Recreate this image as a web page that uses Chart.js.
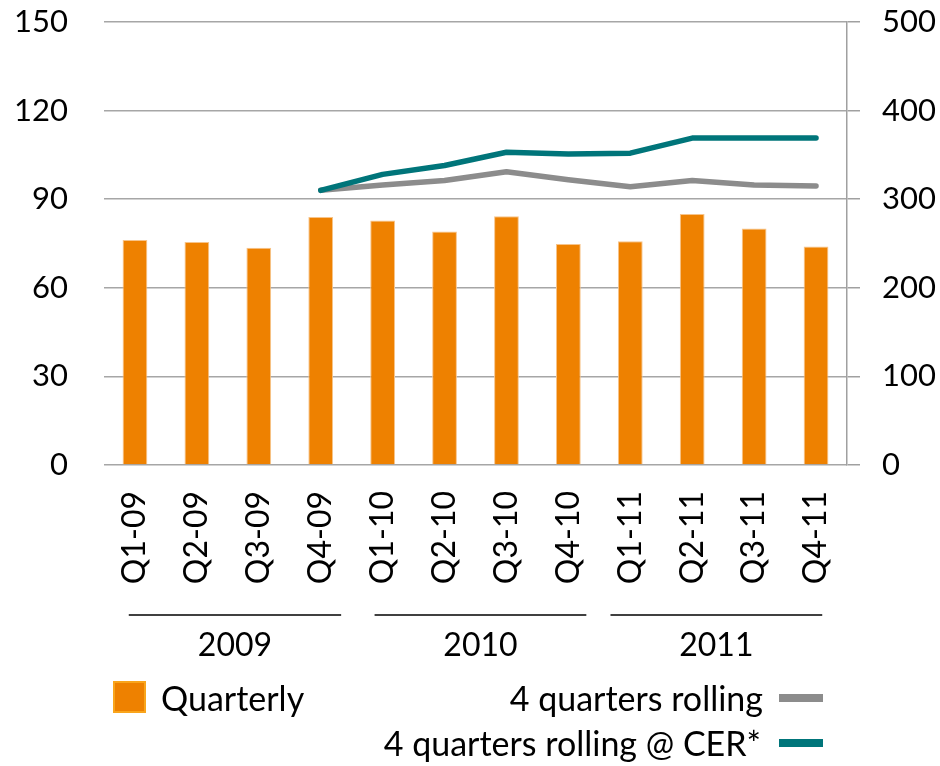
<!DOCTYPE html>
<html lang="en">
<head>
<meta charset="UTF-8">
<title>Quarterly sales</title>
<script src="https://cdn.jsdelivr.net/npm/chart.js"></script>
<style>
  body { margin: 0; background: #fff; }
  canvas { display: block; }
</style>
</head>
<body>
<canvas id="salesChart" width="940" height="766"></canvas>
<script>
// quarters and values
const quarters = ["Q1-09", "Q2-09", "Q3-09", "Q4-09", "Q1-10", "Q2-10", "Q3-10", "Q4-10", "Q1-11", "Q2-11", "Q3-11", "Q4-11"];
const quarterly = [76.2, 75.5, 73.6, 84.0, 82.8, 79.1, 84.2, 74.8, 75.8, 85.0, 80.1, 74.0];
const rolling = [null, null, null, 310, 316, 321, 331, 322, 314, 321, 316, 315];
const rollingCER = [null, null, null, 310, 328, 338, 353, 351, 352, 369, 369, 369];
const years = ["2009", "2010", "2011"];
const leftTicks = [0, 30, 60, 90, 120, 150];
const rightTicks = [0, 100, 200, 300, 400, 500];

const ORANGE = "#ee8100";
const GREY = "#8c8c8c";
const TEAL = "#00757a";
const FONT = "Lato, 'Open Sans', sans-serif";

// year brackets under the quarter labels + the legend
const extras = {
  id: "extras",
  afterDraw(chart) {
    const ctx = chart.ctx;
    const x = chart.scales.x;
    const step = x.getPixelForValue(1) - x.getPixelForValue(0);
    // bracket ends, in fractions of a category step
    const ends = [[-0.1, 0.33], [-0.13, 0.29], [-0.32, 0.1]];
    ctx.save();
    ctx.fillStyle = "#000";
    ctx.strokeStyle = "#000";
    ctx.lineWidth = 1.3;
    ctx.font = "32px " + FONT;
    ctx.textAlign = "center";
    ctx.textBaseline = "middle";
    years.forEach((yr, i) => {
      const a = x.getPixelForValue(i * 4) + ends[i][0] * step;
      const b = x.getPixelForValue(i * 4 + 3) + ends[i][1] * step;
      ctx.beginPath();
      ctx.moveTo(a, 615);
      ctx.lineTo(b, 615);
      ctx.stroke();
      ctx.fillText(yr, (a + b) / 2, 646);
    });

    // legend
    ctx.font = "34px " + FONT;
    ctx.fillStyle = ORANGE;
    ctx.fillRect(113, 681, 33, 32);
    ctx.strokeStyle = "#f9a51c";
    ctx.lineWidth = 2;
    ctx.strokeRect(114, 682, 31, 30);

    ctx.fillStyle = "#000";
    ctx.textAlign = "left";
    ctx.fillText("Quarterly", 161, 700);
    ctx.textAlign = "right";
    ctx.fillText("4 quarters rolling", 763, 700);
    ctx.fillText("4 quarters rolling @ CER*", 761, 745);

    ctx.fillStyle = GREY;
    ctx.fillRect(779, 694, 44, 8);
    ctx.fillStyle = TEAL;
    ctx.fillRect(779, 739, 44, 8);
    ctx.restore();
  }
};

// keep the plot box fixed: tick padding would otherwise push the top down
function fixVertical(width) {
  return function (scale) {
    scale.width = width;
    scale.paddingTop = 22;
    scale.paddingBottom = 0;
  };
}

new Chart(document.getElementById("salesChart"), {
  type: "bar",
  data: {
    labels: quarters,
    datasets: [
      {
        type: "line",
        label: "4 quarters rolling @ CER*",
        data: rollingCER,
        yAxisID: "y1",
        borderColor: TEAL,
        borderWidth: 5.5,
        borderCapStyle: "round",
        borderJoinStyle: "round",
        pointRadius: 0,
        tension: 0,
        order: 0
      },
      {
        type: "line",
        label: "4 quarters rolling",
        data: rolling,
        yAxisID: "y1",
        borderColor: GREY,
        borderWidth: 5.5,
        borderCapStyle: "round",
        borderJoinStyle: "round",
        pointRadius: 0,
        tension: 0,
        order: 1
      },
      {
        label: "Quarterly",
        data: quarterly,
        yAxisID: "y",
        backgroundColor: ORANGE,
        borderColor: "#f7c48a",
        borderWidth: 1,
        barPercentage: 0.4,
        categoryPercentage: 1,
        order: 2
      }
    ]
  },
  options: {
    responsive: false,
    animation: false,
    layout: { padding: 0 },
    plugins: {
      legend: { display: false },
      tooltip: { enabled: false }
    },
    scales: {
      x: {
        grid: { display: false },
        border: { display: false },
        ticks: {
          color: "#000",
          font: { family: FONT, size: 32 },
          minRotation: 90,
          maxRotation: 90,
          padding: 18
        },
        afterFit(scale) {
          scale.height = 301;
          scale.paddingLeft = 0;
          scale.paddingRight = 0;
        }
      },
      y: {
        position: "left",
        min: 0,
        max: 150,
        afterBuildTicks(scale) { scale.ticks = leftTicks.map(v => ({ value: v })); },
        grid: { color: "#a6a6a6", lineWidth: 1.5, drawTicks: false },
        border: { display: false },
        ticks: {
          color: "#000",
          font: { family: FONT, size: 31 },
          padding: 36
        },
        afterFit: fixVertical(104)
      },
      y1: {
        position: "right",
        min: 0,
        max: 500,
        afterBuildTicks(scale) { scale.ticks = rightTicks.map(v => ({ value: v })); },
        grid: { drawOnChartArea: false, drawTicks: true, tickLength: 13, color: "#a0a0a0", lineWidth: 1.5 },
        border: { display: true, color: "#a0a0a0", width: 1.5 },
        ticks: {
          color: "#000",
          font: { family: FONT, size: 31 },
          padding: 22
        },
        afterFit: fixVertical(93)
      }
    }
  },
  plugins: [extras]
});
</script>
</body>
</html>
